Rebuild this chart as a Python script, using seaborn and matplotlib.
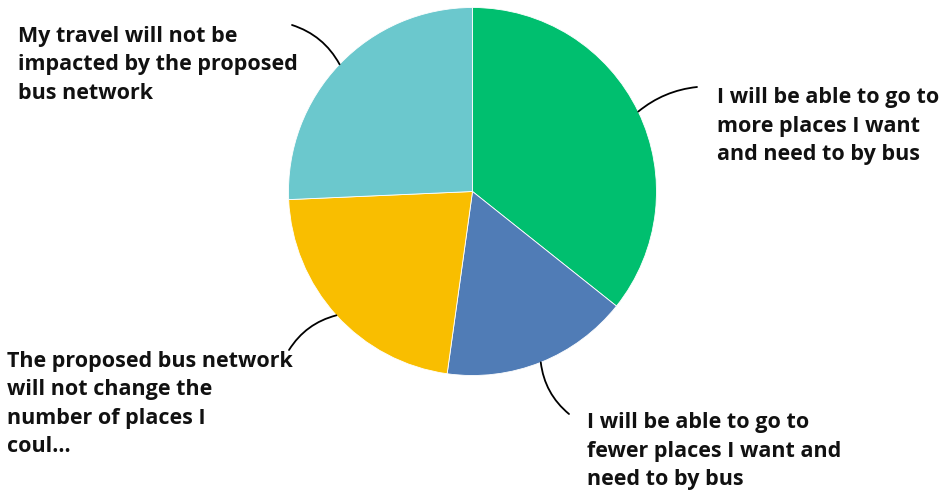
import numpy as np
import matplotlib
matplotlib.use("Agg")
import matplotlib.pyplot as plt
import seaborn as sns

# Survey responses (percent of respondents)
labels = [
    "I will be able to go to\nmore places I want\nand need to by bus",
    "I will be able to go to\nfewer places I want and\nneed to by bus",
    "The proposed bus network\nwill not change the\nnumber of places I\ncoul...",
    "My travel will not be\nimpacted by the proposed\nbus network",
]
shares = [35.7, 16.5, 22.1, 25.7]
colors = ["#00BF6F", "#507CB6", "#F9BE00", "#6BC8CD"]

sns.set_theme(style="white")
plt.rcParams["font.family"] = ["Open Sans", "DejaVu Sans"]

W, H = 943, 493
fig = plt.figure(figsize=(W / 100, H / 100), dpi=100)
ax = fig.add_axes([0, 0, 1, 1])

cx, cy, r = 472.5, H - 191.5, 184
ax.pie(shares, colors=colors, startangle=90, counterclock=False,
       center=(cx, cy), radius=r, frame=True,
       wedgeprops=dict(edgecolor="white", linewidth=0.6))
ax.set_xlim(0, W)
ax.set_ylim(0, H)
ax.set_aspect("equal")
ax.axis("off")

# label anchor (end of leader) and text origin in pixel space
leader_end = [(697, 87), (569, 414), (289, 350), (292, 25)]
text_pos = [(717, 103.3), (587, 428.3), (7, 366.7), (18, 41.7)]
curv = [0.15, -0.2, -0.2, -0.2]
spacing = 28.5

cum = np.cumsum([0] + shares)
for i, lab in enumerate(labels):
    mid = (cum[i] + cum[i + 1]) / 2 / sum(shares) * 2 * np.pi
    ex, ey = cx + r * np.sin(mid), cy + r * np.cos(mid)
    lx, ly = leader_end[i]
    ax.annotate("", xy=(ex, ey), xytext=(lx, H - ly),
                arrowprops=dict(arrowstyle="-", color="black", lw=1.3,
                                shrinkA=0, shrinkB=0,
                                connectionstyle=f"arc3,rad={curv[i]}"))
    tx, ty = text_pos[i]
    for j, line in enumerate(lab.split("\n")):
        ax.text(tx, H - (ty + j * spacing), line, fontsize=15.5,
                fontweight="bold", color="#111111", ha="left", va="baseline")

fig.savefig("out.png", dpi=100, facecolor="white")
